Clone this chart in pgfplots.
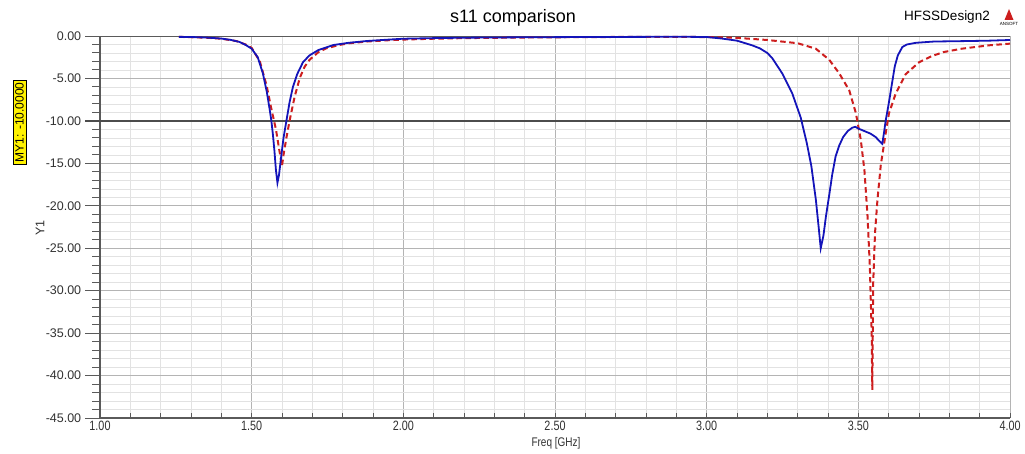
\documentclass[border=0pt]{standalone}
\usepackage{fontspec}
\setmainfont{Liberation Sans}
\newfontfamily\narrowfont[FakeStretch=0.8]{Liberation Sans}
\usepackage{pgfplots}
\pgfplotsset{compat=1.18}
\definecolor{hfblue}{RGB}{20,20,185}
\definecolor{hfred}{RGB}{205,30,30}
\definecolor{axisgray}{RGB}{90,90,90}
\definecolor{labelgray}{RGB}{50,50,50}
\definecolor{gridmajor}{RGB}{180,180,180}
\definecolor{gridminor}{RGB}{226,226,226}

\begin{document}
\begin{tikzpicture}
\path[use as bounding box] (0pt,0pt) rectangle (1025pt,453pt);
\begin{axis}[
  at={(100pt,35pt)}, anchor=south west,
  scale only axis, width=910pt, height=382pt,
  xmin=1, xmax=4, ymin=-45, ymax=0,
  axis lines*=left,
  axis line style={axisgray, line width=1.6pt},
  xtick={1,1.5,2,2.5,3,3.5,4},
  xticklabels={1.00,1.50,2.00,2.50,3.00,3.50,4.00},
  minor x tick num=4,
  ytick={-45,-40,-35,-30,-25,-20,-15,-10,-5,0},
  yticklabels={-45.00,-40.00,-35.00,-30.00,-25.00,-20.00,-15.00,-10.00,-5.00,0.00},
  minor y tick num=4,
  xtick align=inside, ytick align=outside,
  xtick style={axisgray, line width=0.8pt, /pgfplots/major tick length=5pt, /pgfplots/minor tick length=5pt},
  ytick style={axisgray, line width=1pt, /pgfplots/major tick length=15pt, /pgfplots/minor tick length=8pt},
  ticklabel style={text=labelgray},
  yticklabel style={font=\fontsize{12.5}{14}\selectfont, xshift=-11pt},
  xticklabel style={font=\narrowfont\fontsize{13.5}{15}\selectfont, yshift=-0.5pt, inner ysep=2pt},
  grid=both,
  major grid style={gridmajor, line width=0.6pt},
  minor grid style={gridminor, line width=0.6pt},
  clip=false,
]
% marker line and top edge
\draw[axisgray, line width=0.9pt] (axis cs:1,0) -- (axis cs:4,0);
\draw[axisgray!85!black, line width=1.8pt] ([xshift=-15pt]axis cs:1,-10) -- (axis cs:4,-10);

% dashed red trace
\addplot[hfred, line width=2pt, dash pattern=on 5.5pt off 3.5pt] coordinates {
(1.26,-0.10)(1.35,-0.20)(1.40,-0.32)(1.45,-0.60)(1.48,-1.00)(1.50,-1.40)
(1.527,-3.0)(1.549,-5.8)(1.565,-8.6)(1.58,-11.0)(1.59,-13.2)(1.60,-15.3)
(1.605,-14.0)(1.615,-11.9)(1.626,-9.8)(1.642,-7.1)(1.659,-4.9)(1.675,-3.6)
(1.691,-2.8)(1.72,-1.9)(1.746,-1.45)(1.79,-1.05)(1.82,-0.86)(1.88,-0.65)
(1.95,-0.50)(2.0,-0.42)(2.1,-0.32)(2.2,-0.25)(2.4,-0.18)(2.6,-0.13)
(2.8,-0.10)(3.0,-0.12)(3.1,-0.22)(3.2,-0.47)(3.3,-0.85)(3.36,-1.5)
(3.404,-2.8)(3.437,-4.4)(3.47,-6.4)(3.492,-9.1)(3.508,-12.2)(3.52,-15.8)
(3.53,-21.0)(3.538,-27.2)(3.544,-35.0)(3.546,-41.7)(3.549,-29.1)(3.555,-23.2)
(3.563,-19.3)(3.574,-15.2)(3.59,-11.5)(3.601,-9.1)(3.623,-6.8)(3.656,-4.5)
(3.70,-3.1)(3.74,-2.4)(3.78,-1.9)(3.84,-1.5)(3.93,-1.1)(4.0,-0.9)
};

% solid blue trace
\addplot[hfblue, line width=1.8pt] coordinates {
(1.26,-0.10)(1.30,-0.12)(1.35,-0.18)(1.40,-0.30)(1.43,-0.45)(1.46,-0.70)
(1.48,-1.05)(1.50,-1.5)(1.52,-2.5)(1.537,-4.4)(1.55,-6.6)(1.56,-8.8)
(1.565,-10.0)(1.57,-11.6)(1.575,-13.5)(1.58,-15.8)(1.585,-17.3)(1.59,-16.4)
(1.598,-14.0)(1.605,-12.0)(1.615,-9.9)(1.625,-7.8)(1.636,-6.0)(1.65,-4.5)
(1.669,-3.1)(1.69,-2.3)(1.72,-1.65)(1.77,-1.06)(1.82,-0.80)(1.88,-0.59)
(1.94,-0.45)(2.0,-0.32)(2.1,-0.25)(2.2,-0.20)(2.4,-0.15)(2.6,-0.12)
(2.8,-0.10)(2.9,-0.08)(3.0,-0.12)(3.05,-0.30)(3.1,-0.55)(3.15,-1.1)
(3.175,-1.45)(3.2,-2.0)(3.216,-2.6)(3.249,-4.4)(3.282,-6.75)(3.31,-9.6)
(3.33,-12.6)(3.345,-15.3)(3.36,-19.3)(3.37,-22.8)(3.376,-25.0)(3.385,-23.5)
(3.393,-21.3)(3.405,-18.5)(3.414,-16.3)(3.425,-14.2)(3.437,-12.9)(3.45,-11.9)
(3.465,-11.2)(3.48,-10.8)(3.49,-10.7)(3.50,-10.9)(3.52,-11.2)(3.54,-11.5)
(3.557,-11.9)(3.57,-12.4)(3.579,-12.7)(3.585,-11.3)(3.59,-10.0)(3.60,-8.0)
(3.61,-5.8)(3.62,-3.6)(3.63,-2.3)(3.645,-1.3)(3.66,-1.0)(3.69,-0.8)
(3.75,-0.65)(3.85,-0.60)(3.93,-0.55)(4.0,-0.47)
};
\end{axis}

% titles and labels
\node[font=\fontsize{18}{20}\selectfont] at (513pt,435pt) {s11 comparison};
\node[font=\fontsize{13.5}{15}\selectfont] at (947pt,436pt) {HFSSDesign2};
\fill[hfred] (1009pt,444pt) -- (1004.5pt,433pt) -- (1013.5pt,433pt) -- cycle;
\node[font=\fontsize{4.5}{5}\selectfont, inner sep=0pt] at (1009pt,429.5pt) {ANSOFT};
\node[rotate=90, font=\fontsize{12.5}{14}\selectfont, text=labelgray] at (40pt,225pt) {Y1};
\node[font=\narrowfont\fontsize{12.5}{14}\selectfont, text=labelgray, inner sep=1pt] at (556pt,10pt) {Freq [GHz]};
\node[rotate=90, fill=yellow, draw=black, line width=0.5pt, font=\fontsize{12}{13}\selectfont,
      inner xsep=2pt, inner ysep=1pt, minimum height=13pt] at (19.5pt,330.5pt) {MY1: -10.0000};
\end{tikzpicture}
\end{document}
